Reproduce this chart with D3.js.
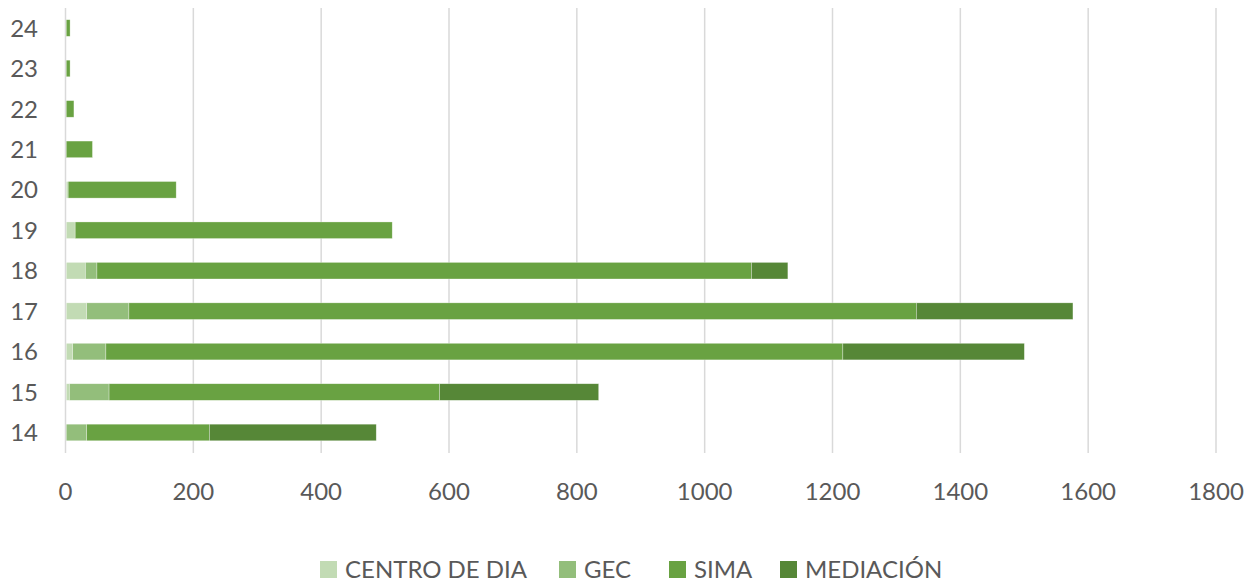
<!DOCTYPE html>
<html>
<head>
<meta charset="utf-8">
<script src="https://cdn.jsdelivr.net/npm/d3@7"></script>
<style>
  body { margin: 0; background: #fff; }
  text { font-family: Lato, "Noto Sans", sans-serif; fill: #595959; }
</style>
</head>
<body>
<div id="chart"></div>
<script>
// categories (top to bottom) and stacked series
var ages = ["24", "23", "22", "21", "20", "19", "18", "17", "16", "15", "14"];
var seriesNames = ["CENTRO DE DIA", "GEC", "SIMA", "MEDIACIÓN"];
var centroDeDia = [0, 0, 0, 0, 3, 14, 30, 32, 10, 5, 0];
var gec = [0, 0, 0, 0, 0, 0, 18, 66, 52, 62, 32];
var sima = [6, 6, 12, 41, 169, 496, 1024, 1232, 1153, 517, 192];
var mediacion = [0, 0, 0, 0, 0, 0, 57, 245, 284, 249, 261];
var xTicks = [0, 200, 400, 600, 800, 1000, 1200, 1400, 1600, 1800];
var colors = ["#c2dbb4", "#93be7b", "#69a242", "#568737"];

var width = 1259, height = 584;

var rows = ages.map(function(a, i) {
  return { age: a, "CENTRO DE DIA": centroDeDia[i], "GEC": gec[i], "SIMA": sima[i], "MEDIACIÓN": mediacion[i] };
});

var svg = d3.select("#chart").append("svg").attr("width", width).attr("height", height);

var x = d3.scaleLinear().domain([0, 1800]).range([65.5, 1216]);
var y = d3.scaleBand().domain(ages).range([7.8, 452.7]).paddingInner(0.59).paddingOuter(0.295);

// vertical gridlines
svg.append("g").selectAll("line")
  .data(xTicks)
  .enter()
  .append("line")
  .attr("x1", d => x(d)).attr("x2", d => x(d))
  .attr("y1", 8).attr("y2", 453)
  .style("stroke", "#d9d9d9")
  .style("stroke-width", 1.5);

var stack = d3.stack().keys(seriesNames);

svg.append("g").selectAll("g")
  .data(stack(rows))
  .enter()
  .append("g")
  .attr("fill", (d, i) => colors[i])
  .selectAll("rect")
  .data(d => d)
  .enter()
  .append("rect")
  .filter(d => d[1] - d[0] > 0)
  .attr("x", d => x(d[0]) + 0.75)
  .attr("width", d => x(d[1]) - x(d[0]))
  .attr("y", d => y(d.data.age))
  .attr("height", y.bandwidth())
  .style("stroke", "#ffffff")
  .style("stroke-width", 0.6)
  .style("stroke-opacity", 0.5);

// y labels
svg.append("g").selectAll("text")
  .data(ages)
  .enter()
  .append("text")
  .attr("x", 38)
  .attr("y", d => y(d) + y.bandwidth() / 2)
  .attr("dy", "0.36em")
  .attr("text-anchor", "end")
  .style("font-size", "24px")
  .text(d => d);

// x labels
svg.append("g").selectAll("text")
  .data(xTicks)
  .enter()
  .append("text")
  .attr("x", d => x(d))
  .attr("y", 500)
  .attr("text-anchor", "middle")
  .style("font-size", "24px")
  .text(d => d);

// legend
var legendX = [320, 559, 669, 780];
var legend = svg.append("g").selectAll("g")
  .data(seriesNames)
  .enter()
  .append("g")
  .attr("transform", (d, i) => "translate(" + legendX[i] + ",561)");

legend.append("rect")
  .attr("width", 17).attr("height", 17)
  .attr("fill", (d, i) => colors[i]);

legend.append("text")
  .attr("x", 25)
  .attr("y", 17)
  .style("font-size", "24px")
  .text(d => d);
</script>
</body>
</html>
